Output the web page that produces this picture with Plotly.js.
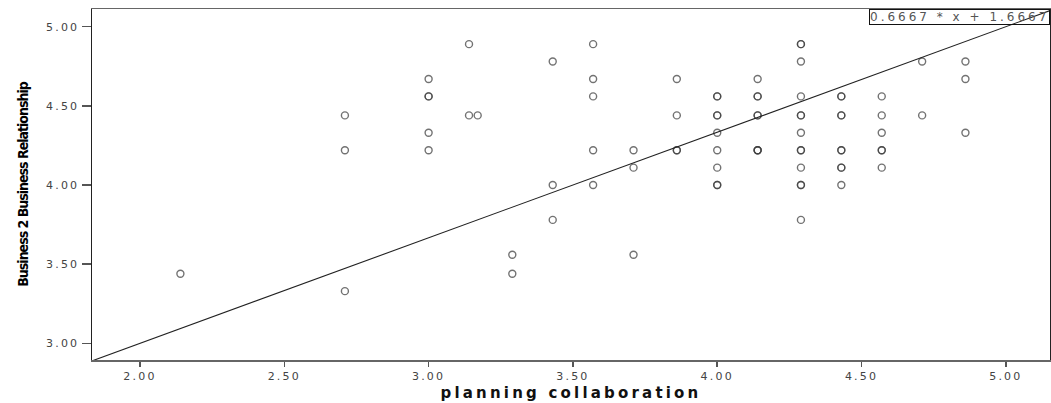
<!DOCTYPE html>
<html>
<head>
<meta charset="utf-8">
<script src="https://cdn.plot.ly/plotly-3.0.1.min.js"></script>
<style>html,body{margin:0;padding:0;background:#fff;}#chart{width:1051px;height:403px;}</style>
</head>
<body>
<div id="chart"></div>
<script>
// planning collaboration (x) and Business 2 Business Relationship (y); repeated pairs = overlapping cases
const planningCollaboration = [
  2.14,
  2.71, 2.71, 2.71,
  3.00, 3.00, 3.00, 3.00, 3.00,
  3.14, 3.14,
  3.17,
  3.29, 3.29,
  3.43, 3.43, 3.43,
  3.57, 3.57, 3.57, 3.57, 3.57,
  3.71, 3.71, 3.71,
  3.86, 3.86, 3.86, 3.86,
  4.00, 4.00, 4.00, 4.00, 4.00, 4.00, 4.00, 4.00, 4.00,
  4.14, 4.14, 4.14, 4.14, 4.14, 4.14, 4.14, 4.14,
  4.29, 4.29, 4.29, 4.29, 4.29, 4.29, 4.29, 4.29, 4.29, 4.29, 4.29, 4.29, 4.29,
  4.43, 4.43, 4.43, 4.43, 4.43, 4.43, 4.43, 4.43, 4.43,
  4.57, 4.57, 4.57, 4.57, 4.57, 4.57,
  4.71, 4.71,
  4.86, 4.86, 4.86
];
const b2bRelationship = [
  3.44,
  4.44, 4.22, 3.33,
  4.67, 4.56, 4.56, 4.33, 4.22,
  4.89, 4.44,
  4.44,
  3.56, 3.44,
  4.78, 4.00, 3.78,
  4.89, 4.67, 4.56, 4.22, 4.00,
  4.22, 4.11, 3.56,
  4.67, 4.44, 4.22, 4.22,
  4.56, 4.56, 4.44, 4.44, 4.33, 4.22, 4.11, 4.00, 4.00,
  4.67, 4.56, 4.56, 4.44, 4.44, 4.22, 4.22, 4.22,
  4.89, 4.89, 4.78, 4.56, 4.44, 4.44, 4.33, 4.22, 4.22, 4.11, 4.00, 4.00, 3.78,
  4.56, 4.56, 4.44, 4.44, 4.22, 4.22, 4.11, 4.11, 4.00,
  4.56, 4.44, 4.33, 4.22, 4.22, 4.11,
  4.78, 4.44,
  4.78, 4.67, 4.33
];
const fitSlope = 0.6667;
const fitIntercept = 1.6667;
const fitLabel = '0.6667 * x + 1.6667';
const xTicks = [2.0, 2.5, 3.0, 3.5, 4.0, 4.5, 5.0];
const xTickLabels = ['2.00', '2.50', '3.00', '3.50', '4.00', '4.50', '5.00'];
const yTicks = [3.0, 3.5, 4.0, 4.5, 5.0];
const yTickLabels = ['3.00', '3.50', '4.00', '4.50', '5.00'];
const xRange = [1.8337, 5.153];
const yRange = [2.895, 5.112];

const fitX = xRange.slice();
const fitY = fitX.map(v => fitSlope * v + fitIntercept);

const spaced = (s, px) => '<span style="letter-spacing:' + px + 'px">' + s + '</span>';

const traces = [
  {
    type: 'scatter', mode: 'markers',
    x: planningCollaboration, y: b2bRelationship,
    marker: {symbol: 'circle-open', size: 7, color: 'rgba(60,60,60,0.72)', line: {width: 1.4}},
    hoverinfo: 'x+y', showlegend: false
  },
  {
    type: 'scatter', mode: 'lines',
    x: fitX, y: fitY,
    line: {color: '#222', width: 1.1},
    hoverinfo: 'skip', showlegend: false
  }
];

const layout = {
  width: 1051, height: 403,
  margin: {l: 92, r: 1, t: 9, b: 43},
  paper_bgcolor: '#fff', plot_bgcolor: '#fff',
  font: {family: '"DejaVu Sans", sans-serif', color: '#444', size: 11},
  xaxis: {
    range: xRange, tickmode: 'array', tickvals: xTicks,
    ticktext: xTickLabels.map(s => spaced(s, 2.2)),
    ticks: 'outside', ticklen: 5, tickwidth: 1.5, tickcolor: '#555',
    showgrid: false, zeroline: false,
    showline: true, linecolor: '#666', linewidth: 1.5, mirror: true,
    tickfont: {size: 11, color: '#444'},
    title: {text: spaced('planning collaboration', 3.2), standoff: 6,
      font: {family: '"DejaVu Sans", sans-serif', size: 15, color: '#111', weight: 'bold'}}
  },
  yaxis: {
    range: yRange, tickmode: 'array', tickvals: yTicks,
    ticktext: yTickLabels.map(s => spaced(s, 2.2)),
    ticks: 'outside', ticklen: 9, tickwidth: 1.5, tickcolor: '#555',
    showgrid: false, zeroline: false,
    showline: true, linecolor: '#222', linewidth: 1.5, mirror: true,
    tickfont: {size: 11, color: '#444'},
    title: {text: spaced('Business 2 Business Relationship', -1), standoff: 14,
      font: {family: '"DejaVu Sans Condensed", "Liberation Sans Narrow", sans-serif', size: 14, color: '#000', weight: 'bold'}}
  },
  annotations: [{
    xref: 'paper', yref: 'paper', x: 1, y: 1, xanchor: 'right', yanchor: 'top',
    text: spaced(fitLabel, 3),
    showarrow: false, bordercolor: '#111', borderwidth: 1, borderpad: 0,
    bgcolor: 'rgba(255,255,255,0)',
    font: {family: '"DejaVu Sans", sans-serif', size: 12, color: '#555'}
  }]
};

Plotly.newPlot('chart', traces, layout, {displayModeBar: false, staticPlot: true});
</script>
</body>
</html>
